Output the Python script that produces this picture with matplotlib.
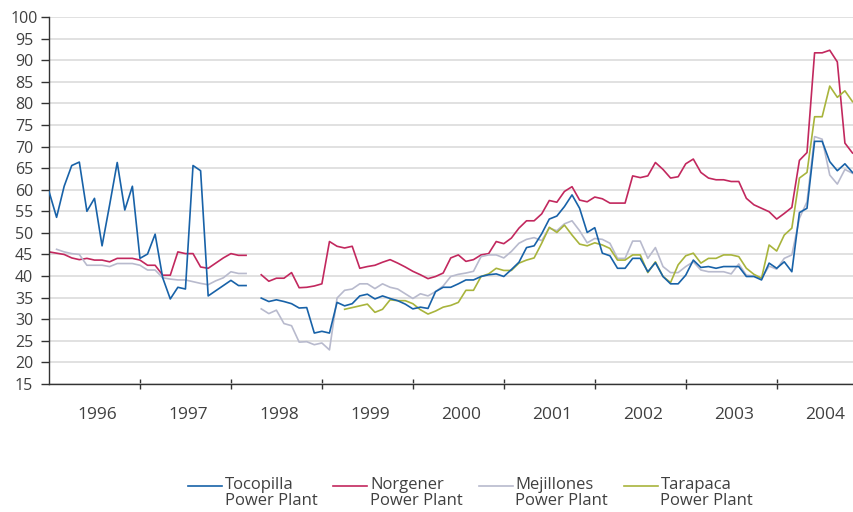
import numpy as np
import matplotlib
matplotlib.use('Agg')
import matplotlib.pyplot as plt
from matplotlib.legend_handler import HandlerLine2D

nan = np.nan

# Valores mensais, jan/1996 a nov/2004 (nan = sem dado)
tocopilla = [59.6, 53.6, 60.8, 65.6, 66.4, 55.0, 58.0, 47.0, 56.5, 66.3, 55.3, 60.8,
             44.1, 45.1, 49.7, 39.6, 34.7, 37.4, 37.0, 65.6, 64.4, 35.4, 36.6, 37.8,
             39.0, 37.8, 37.8, nan, 34.9, 34.1, 34.5, 34.1, 33.6, 32.6, 32.7, 26.8,
             27.2, 26.8, 33.9, 33.1, 33.6, 35.4, 35.8, 34.7, 35.4, 34.8, 34.3, 33.5,
             32.4, 32.8, 32.5, 36.4, 37.4, 37.4, 38.2, 39.1, 39.1, 39.9, 40.3, 40.5,
             39.9, 41.5, 43.2, 46.6, 47.0, 49.8, 53.2, 53.9, 56.1, 58.8, 55.7, 50.1,
             51.2, 45.3, 44.7, 41.8, 41.8, 44.1, 44.1, 41.0, 43.1, 39.9, 38.2, 38.2,
             40.2, 43.7, 42.0, 42.2, 41.8, 42.2, 42.2, 42.2, 39.9, 39.9, 39.1, 43.0,
             41.8, 43.3, 41.0, 54.7, 55.7, 71.2, 71.2, 66.5, 64.4, 66.0, 64.0]

norgener = [45.6, 45.3, 45.0, 44.2, 43.8, 44.1, 43.7, 43.7, 43.3, 44.1, 44.1, 44.1,
            43.7, 42.5, 42.5, 40.2, 40.2, 45.6, 45.2, 45.2, 42.1, 41.8, 43.0, 44.2,
            45.2, 44.8, 44.8, nan, 40.3, 38.8, 39.5, 39.5, 40.8, 37.3, 37.4, 37.7,
            38.2, 48.0, 46.9, 46.5, 46.9, 41.8, 42.2, 42.5, 43.2, 43.8, 43.0, 42.1,
            41.1, 40.3, 39.4, 39.9, 40.7, 44.2, 44.9, 43.4, 43.8, 44.9, 45.2, 48.0,
            47.5, 48.8, 51.1, 52.8, 52.8, 54.4, 57.5, 57.1, 59.6, 60.7, 57.6, 57.2,
            58.3, 57.9, 56.9, 56.9, 56.9, 63.2, 62.8, 63.2, 66.3, 64.7, 62.7, 63.0,
            66.0, 67.1, 64.0, 62.7, 62.3, 62.3, 61.9, 61.9, 58.0, 56.5, 55.7, 54.9,
            53.2, 54.5, 55.9, 66.8, 68.6, 91.7, 91.7, 92.3, 89.6, 70.8, 68.5]

mejillones = [nan, 46.2, 45.6, 45.2, 45.0, 42.5, 42.5, 42.5, 42.2, 42.9, 42.9, 42.9,
              42.5, 41.4, 41.4, 39.6, 39.3, 39.1, 39.1, 38.7, 38.3, 38.0, 38.9, 39.6,
              41.0, 40.6, 40.6, nan, 32.4, 31.3, 32.1, 29.0, 28.5, 24.7, 24.8, 24.1,
              24.5, 22.9, 34.9, 36.7, 37.0, 38.2, 38.2, 37.1, 38.2, 37.4, 37.0, 35.9,
              34.8, 35.9, 35.4, 36.4, 37.7, 39.9, 40.4, 40.7, 41.1, 44.5, 44.9, 44.9,
              44.2, 45.7, 47.6, 48.5, 48.9, 48.2, 51.1, 50.5, 52.1, 52.8, 50.5, 47.7,
              48.7, 48.5, 47.6, 44.1, 44.1, 48.1, 48.1, 44.1, 46.6, 42.2, 40.8, 40.8,
              42.2, 43.3, 41.4, 41.0, 41.0, 41.0, 40.5, 42.8, 40.2, 40.0, 39.5, 42.3,
              41.6, 44.1, 44.9, 53.4, 57.2, 72.3, 71.7, 63.4, 61.3, 64.7, 63.8]

tarapaca = [nan] * 39 + [32.3, 32.7, 33.1, 33.5, 31.6, 32.3, 34.5, 34.3, 34.3,
            33.6, 32.2, 31.2, 31.9, 32.8, 33.2, 33.9, 36.7, 36.7, 39.9, 40.5, 41.8,
            41.3, 41.3, 43.0, 43.7, 44.2, 47.6, 51.3, 50.1, 51.8, 49.5, 47.4, 47.0,
            47.7, 47.2, 46.4, 43.7, 43.7, 44.9, 44.9, 40.8, 43.3, 39.9, 38.5, 42.6,
            44.7, 45.3, 43.0, 44.1, 44.1, 44.9, 44.9, 44.5, 41.8, 40.4, 39.5, 47.2,
            45.8, 49.5, 51.1, 62.7, 64.0, 76.9, 76.9, 84.0, 81.4, 82.9, 80.4]

anos = ['1996', '1997', '1998', '1999', '2000', '2001', '2002', '2003', '2004']
nomes = ['Tocopilla\nPower Plant', 'Norgener\nPower Plant',
         'Mejillones\nPower Plant', 'Tarapaca\nPower Plant']
cores = ['#1862a8', '#c2285e', '#b8bacd', '#a8b43c']

texto = '#404040'
plt.rcParams['font.family'] = ['Open Sans', 'DejaVu Sans']


class HandlerTopo(HandlerLine2D):
    # linha da legenda na altura da primeira linha do texto
    def create_artists(self, legend, orig_handle, xdescent, ydescent,
                       width, height, fontsize, trans):
        arts = super().create_artists(legend, orig_handle, xdescent, ydescent,
                                      width, height, fontsize, trans)
        for a in arts:
            a.set_ydata(np.asarray(a.get_ydata()) + 0.45 * fontsize)
        return arts


fig = plt.figure(figsize=(8.54, 5.12), dpi=100)
ax = fig.add_axes([49 / 854, 1 - 384 / 512, 805 / 854, 367 / 512])

meses = np.arange(len(tocopilla))
linhas = []
for serie, cor, nome in zip([tocopilla, norgener, mejillones, tarapaca], cores, nomes):
    l, = ax.plot(meses, serie, color=cor, lw=1.2, label=nome)
    linhas.append(l)
# desenha a azul por cima
linhas[0].set_zorder(3)

ax.set_xlim(0, 106.2)
ax.set_ylim(15, 100)
ax.set_yticks(np.arange(15, 101, 5))
ax.yaxis.grid(True, color='#d9d9d9', lw=1.1)
ax.set_axisbelow(True)

# anos no meio de cada ano, traços nas viradas de ano
ax.set_xticks([12 * i + 6.4 for i in range(len(anos))])
ax.set_xticklabels(anos)
ax.set_xticks([12 * i for i in range(1, len(anos))], minor=True)
ax.tick_params(axis='x', which='major', length=0, pad=16.5, labelsize=12.5, labelcolor=texto)
ax.tick_params(axis='x', which='minor', direction='inout', length=7.5, width=1, color='#333333')
ax.tick_params(axis='y', length=6, width=1, color='#333333', pad=12, labelsize=11.5,
               labelcolor=texto)
for rot in ax.get_yticklabels():
    rot.set_horizontalalignment('center')

for lado in ['top', 'right']:
    ax.spines[lado].set_visible(False)
for lado in ['left', 'bottom']:
    ax.spines[lado].set_color('#333333')
    ax.spines[lado].set_linewidth(1)

fig.legend(handles=linhas, loc='upper left', bbox_to_anchor=(188 / 854, 1 - 477 / 512),
           ncol=4, frameon=False, fontsize=12, labelcolor=texto, borderpad=0,
           borderaxespad=0, handlelength=2.05, handletextpad=0.15, columnspacing=0.95,
           labelspacing=0, handler_map={plt.Line2D: HandlerTopo()})
for t in fig.legends[0].get_texts():
    t.set_linespacing(1.0)

fig.savefig('out.png', dpi=100)
